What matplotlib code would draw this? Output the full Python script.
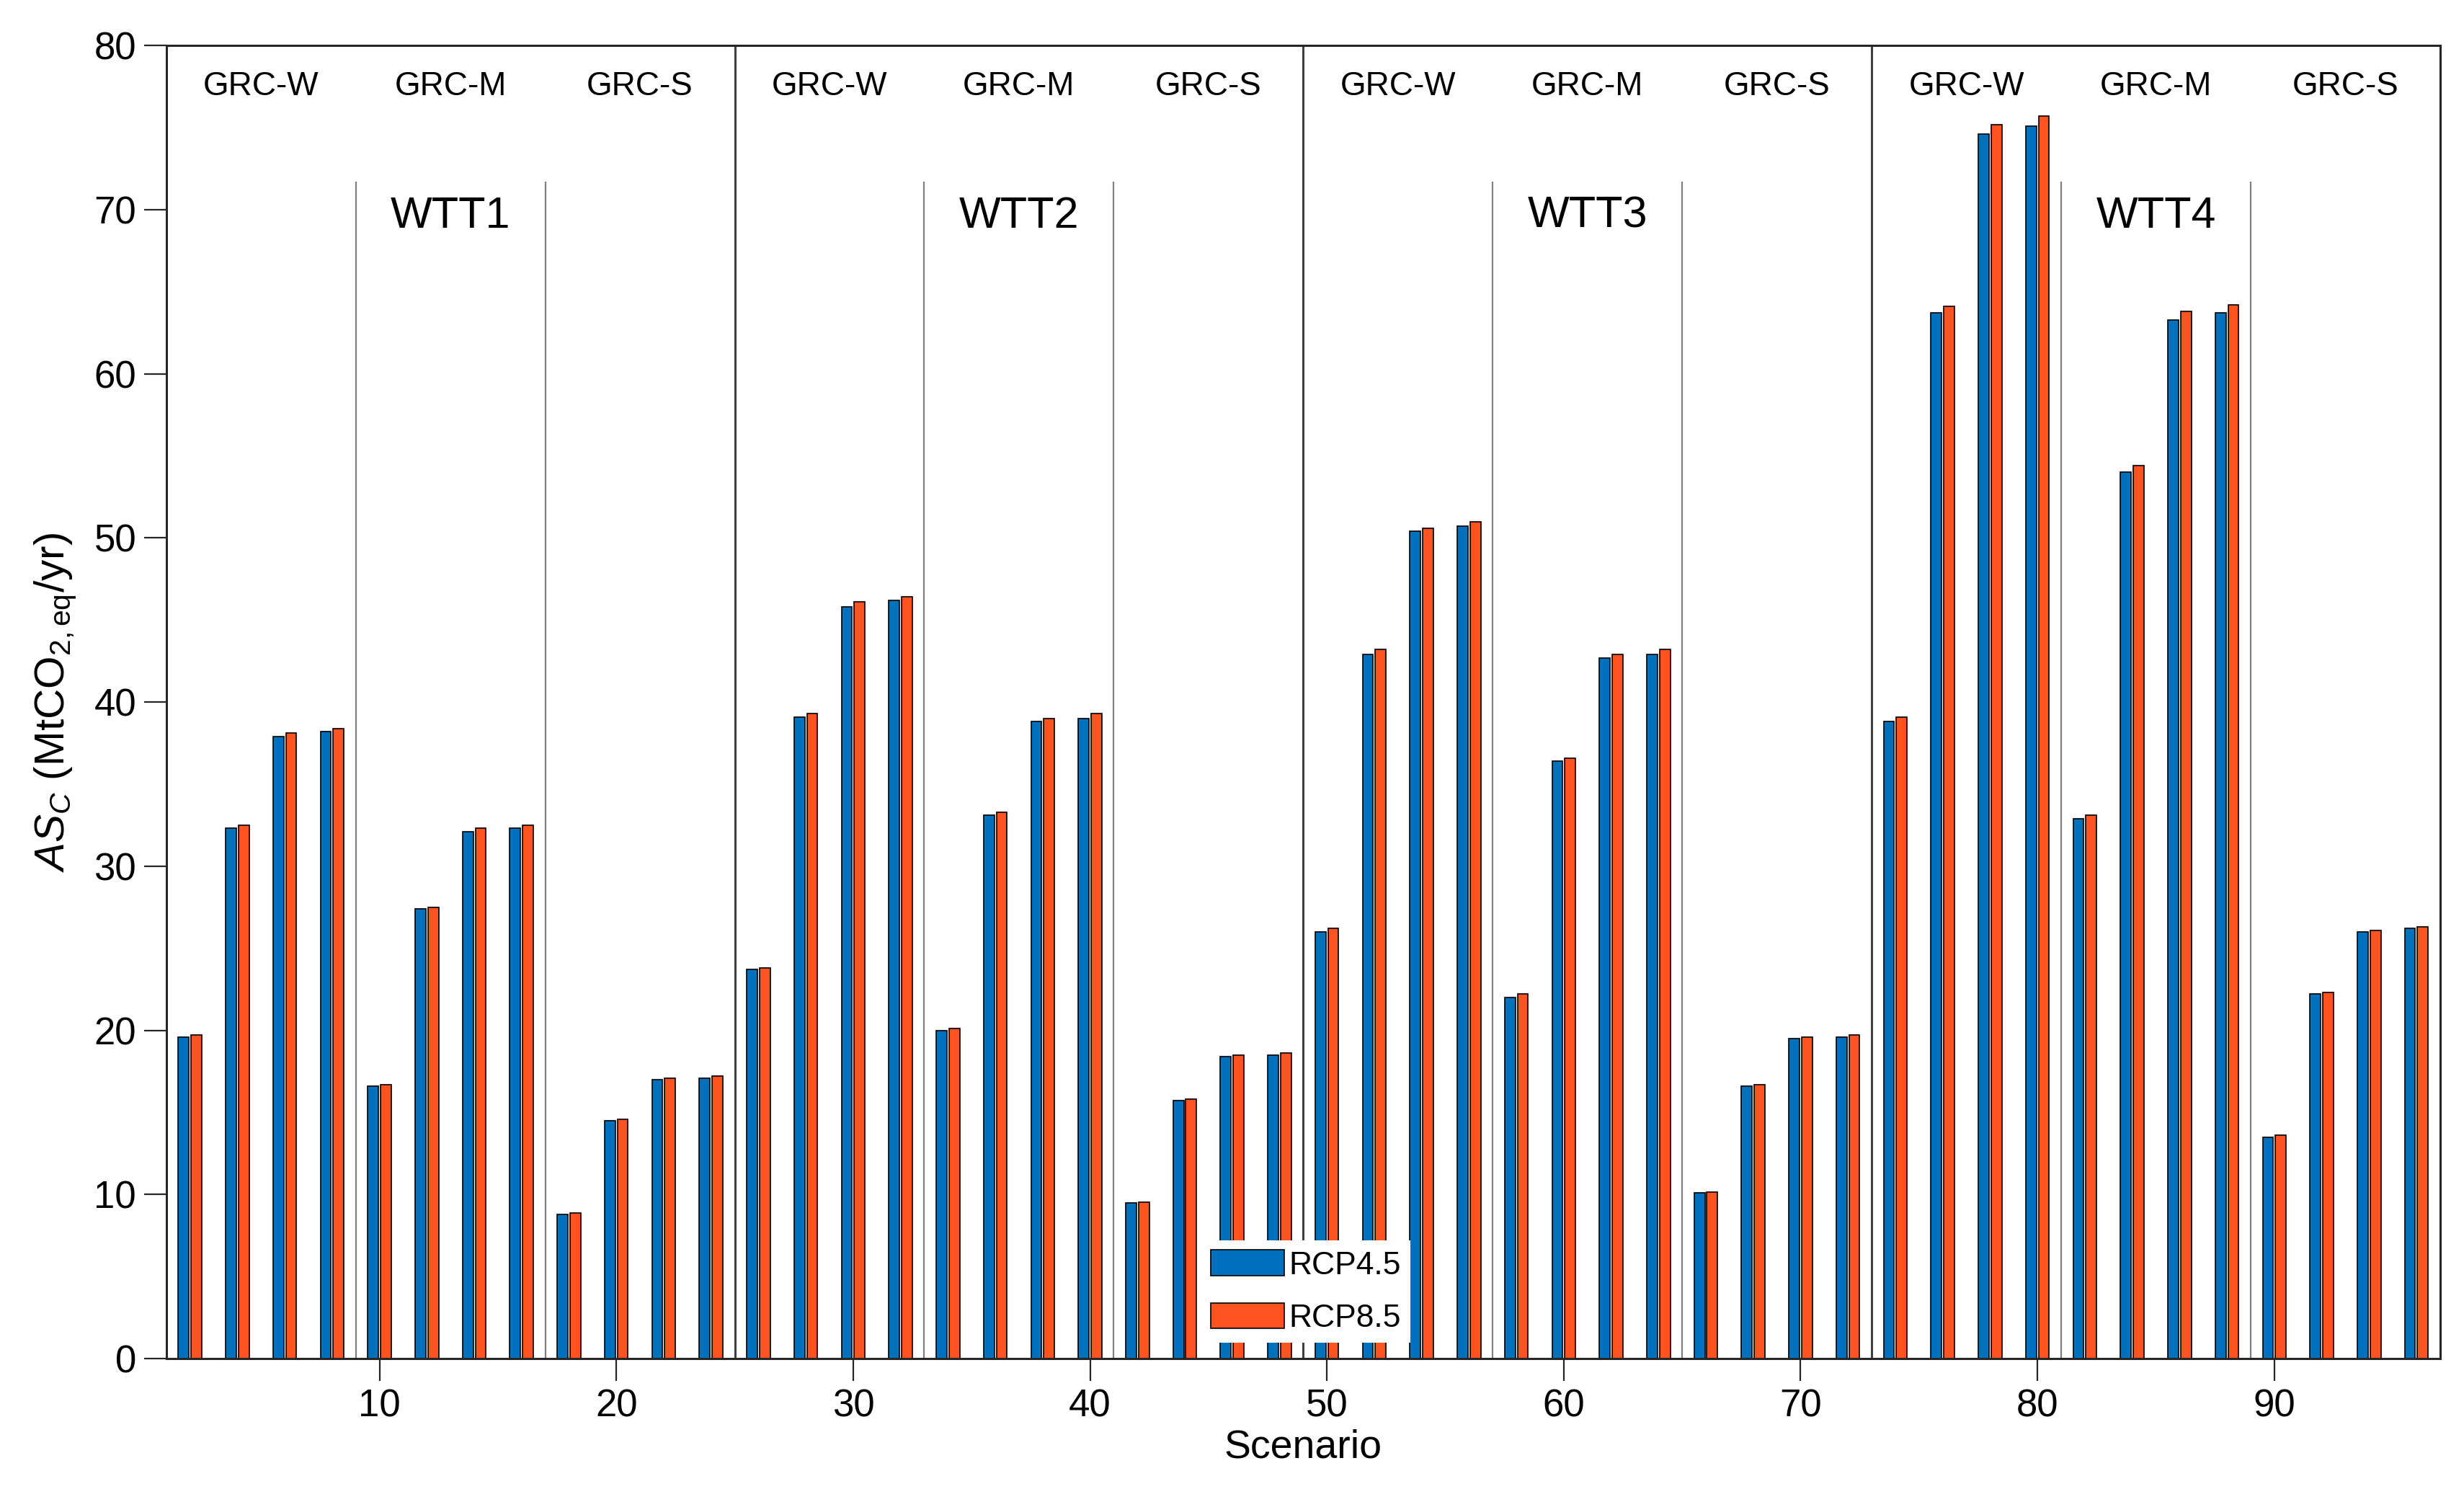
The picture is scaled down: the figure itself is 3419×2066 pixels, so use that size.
import matplotlib.pyplot as plt
import numpy as np

plt.rcParams['font.family'] = 'Liberation Sans'
plt.rcParams['mathtext.fontset'] = 'custom'
plt.rcParams['mathtext.rm'] = 'Liberation Sans'
plt.rcParams['mathtext.it'] = 'Liberation Sans:italic'

# annual sequestration per scenario (pairs of bars at 2, 4, ..., 96)
scenarios = np.arange(2, 97, 2)
rcp45 = [19.6, 32.3, 37.9, 38.2, 16.6, 27.4, 32.1, 32.3, 8.8, 14.5, 17.0, 17.1,
         23.7, 39.1, 45.8, 46.2, 20.0, 33.1, 38.8, 39.0, 9.5, 15.7, 18.4, 18.5,
         26.0, 42.9, 50.4, 50.7, 22.0, 36.4, 42.7, 42.9, 10.1, 16.6, 19.5, 19.6,
         38.8, 63.7, 74.6, 75.1, 32.9, 54.0, 63.3, 63.7, 13.5, 22.2, 26.0, 26.2]
rcp85 = [19.7, 32.5, 38.1, 38.4, 16.7, 27.5, 32.3, 32.5, 8.85, 14.6, 17.1, 17.2,
         23.8, 39.3, 46.1, 46.4, 20.1, 33.3, 39.0, 39.3, 9.55, 15.8, 18.5, 18.6,
         26.2, 43.2, 50.6, 51.0, 22.2, 36.6, 42.9, 43.2, 10.15, 16.7, 19.6, 19.7,
         39.1, 64.1, 75.2, 75.7, 33.1, 54.4, 63.8, 64.2, 13.6, 22.3, 26.1, 26.3]

wtt_labels = ['WTT1', 'WTT2', 'WTT3', 'WTT4']
grc_labels = ['GRC-W', 'GRC-M', 'GRC-S']

fig = plt.figure(figsize=(17.095, 10.33), dpi=200)
ax = fig.add_axes([0.0675, 0.0876, 0.9228, 0.8818])

ax.bar(scenarios - 0.27, rcp45, width=0.45, color='#0072BD', edgecolor='black',
       linewidth=0.6, label='RCP4.5', zorder=2)
ax.bar(scenarios + 0.27, rcp85, width=0.45, color='#FF5421', edgecolor='black',
       linewidth=0.6, label='RCP8.5', zorder=2)

# separators and group labels
for i, wtt in enumerate(wtt_labels):
    start = 1 + 24 * i
    if i > 0:
        ax.axvline(start, color='#404040', lw=1.1, zorder=1)
    for j, grc in enumerate(grc_labels):
        g0 = start + 8 * j
        if j > 0:
            ax.vlines(g0, 0, 71.7, color='#808080', lw=0.8, zorder=1)
        ax.text(g0 + 4, 77.5, grc, ha='center', va='center', fontsize=16.5)
    ax.text(start + 12, 69.6, wtt, ha='center', va='center', fontsize=22)

ax.set_xlim(1, 97)
ax.set_ylim(0, 80)
ax.set_xticks(np.arange(10, 91, 10))
ax.set_yticks(np.arange(0, 81, 10))
ax.tick_params(direction='out', length=11, width=0.8, labelsize=19, pad=4,
               top=False, right=False, colors='#262626', labelcolor='black')
for s in ax.spines.values():
    s.set_linewidth(1.1)
    s.set_color('#262626')

ax.set_xlabel('Scenario', fontsize=20, labelpad=2)
ax.set_ylabel(r'$AS_C$ (MtCO$_{2,\mathrm{eq}}$/yr)', fontsize=21, labelpad=8)

leg = ax.legend(loc='lower left', bbox_to_anchor=(0.455, 0.012), fontsize=16,
                handlelength=2.3, handleheight=0.85, handletextpad=0.15,
                labelspacing=0.7, borderpad=0.3, borderaxespad=0,
                frameon=True, fancybox=False, framealpha=1)
leg.get_frame().set_edgecolor('none')
leg.get_frame().set_facecolor('white')

fig.savefig('out.png', dpi=200)
